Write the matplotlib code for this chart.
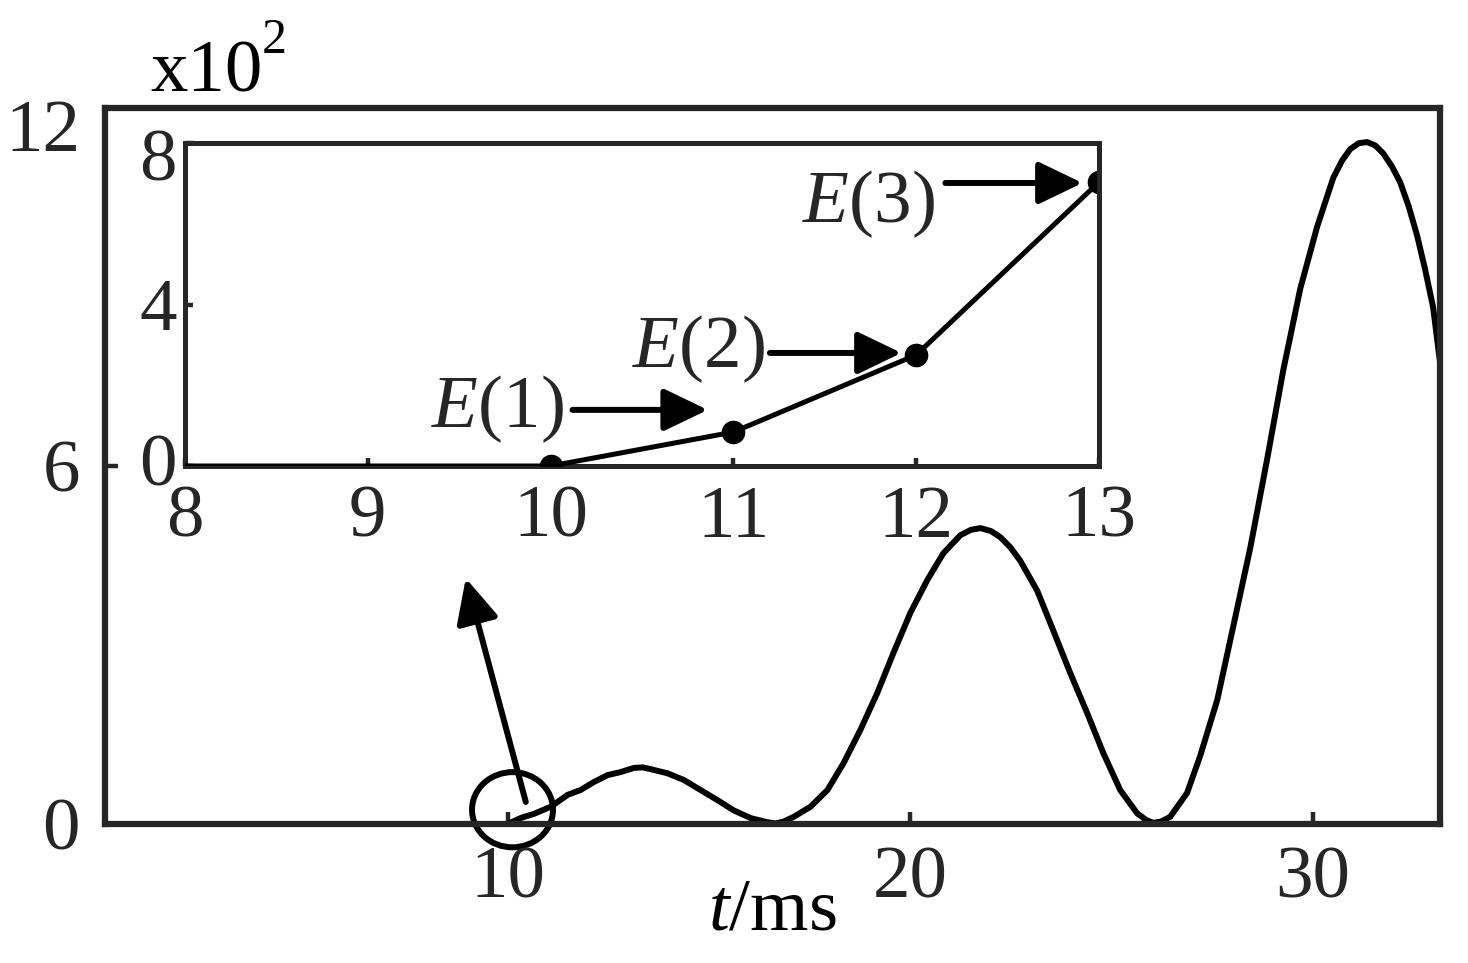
# Energy curve with zoomed inset around t = 10 ms
import matplotlib
matplotlib.use('Agg')
import matplotlib.pyplot as plt
from matplotlib.patches import Ellipse
from matplotlib.transforms import ScaledTranslation

plt.rcParams['font.family'] = 'Liberation Serif'
plt.rcParams['mathtext.fontset'] = 'custom'
plt.rcParams['mathtext.rm'] = 'Liberation Serif'
plt.rcParams['mathtext.it'] = 'Liberation Serif:italic'

# main curve, values (x10^2)
t_ms = [0, 10.0, 10.32, 10.65, 11.07, 11.49, 11.81, 12.13, 12.48, 12.80, 13.13,
        13.35, 13.55, 13.97, 14.37, 14.79, 15.21, 15.61, 16.03, 16.45, 16.65,
        16.85, 17.10, 17.52, 17.94, 18.34, 18.76, 19.18, 19.58, 20.00, 20.42,
        20.82, 21.24, 21.50, 21.74, 22.00, 22.23, 22.48, 22.73, 23.15, 23.55,
        23.97, 24.39, 24.79, 25.21, 25.63, 25.85, 26.03, 26.22, 26.45, 26.87,
        27.20, 27.62, 28.01, 28.44, 28.86, 29.26, 29.68, 30.10, 30.50, 30.72,
        30.92, 31.13, 31.34, 31.55, 31.74, 31.95, 32.16, 32.37, 32.58, 32.78,
        32.98, 33.15]
amplitude = [0, 0.0, 0.10, 0.17, 0.29, 0.49, 0.57, 0.70, 0.82, 0.87, 0.94,
             0.95, 0.92, 0.85, 0.74, 0.57, 0.40, 0.23, 0.10, 0.03, 0.01,
             0.04, 0.12, 0.29, 0.57, 1.02, 1.58, 2.20, 2.87, 3.54, 4.09,
             4.54, 4.84, 4.93, 4.96, 4.91, 4.81, 4.64, 4.41, 3.91, 3.24,
             2.53, 1.86, 1.19, 0.57, 0.18, 0.07, 0.02, 0.04, 0.12, 0.52,
             1.15, 2.08, 3.29, 4.63, 6.12, 7.61, 8.97, 10.01, 10.83, 11.12,
             11.31, 11.41, 11.43, 11.37, 11.24, 11.03, 10.76, 10.36, 9.87, 9.30,
             8.66, 7.75]

main_xticks = [10, 20, 30]
main_yticks = [0, 6, 12]

# inset: energy at the sampling instants
inset_t = [8, 10, 11, 12, 13]
inset_E = [0, 0, 0.84, 2.75, 7.03]
inset_xticks = [8, 9, 10, 11, 12, 13]
inset_yticks = [0, 4, 8]
e_labels = ['$E$(1)', '$E$(2)', '$E$(3)']

dark = '#262626'
fs = 54

fig = plt.figure(figsize=(14.68, 9.63), dpi=100)
ax = fig.add_axes([0.0715, 0.1443, 0.9094, 0.7435])

ax.plot(t_ms, amplitude, color='k', lw=4.3, solid_joinstyle='round')
ax.set_xlim(0, 33.15)
ax.set_ylim(0, 12)
ax.set_xticks(main_xticks)
ax.set_yticks(main_yticks)
ax.tick_params(direction='in', length=9, width=3.2, color=dark, labelcolor=dark,
               labelsize=fs, top=False, right=False)
ax.tick_params(axis='x', pad=16)
ax.tick_params(axis='y', pad=18)
for s in ax.spines.values():
    s.set_linewidth(4.5)
    s.set_color(dark)

# shift top label down a little like in the original
lab = ax.get_yticklabels()[-1]
lab.set_transform(lab.get_transform() + ScaledTranslation(0, -0.17, fig.dpi_scale_trans))

ax.set_xlabel('$t$/ms', fontsize=fs, color='k')
ax.xaxis.set_label_coords(0.5, -0.075)

fig.text(150 / 1468, 1 - 92 / 963, 'x10', fontsize=fs, color='k', va='baseline', ha='left')
fig.text(262 / 1468, 1 - 53 / 963, '2', fontsize=36, color='k', va='baseline', ha='left')

# circle around the zoomed region and pointer to the inset
ax.add_patch(Ellipse((10.12, 0.24), 2.01, 1.26, fill=False, lw=4.3, ec='k', clip_on=False))
ax.annotate('', xy=(8.96, 4.12), xytext=(10.45, 0.37),
            arrowprops=dict(arrowstyle='-|>,head_length=1.35,head_width=0.65',
                            mutation_scale=20, lw=4.3, color='k',
                            shrinkA=0, shrinkB=0))

# inset
ax_in = fig.add_axes([0.126, 0.5161, 0.6226, 0.3354])
ax_in.plot(inset_t, inset_E, color='k', lw=3.6)
ax_in.plot(inset_t[1:], inset_E[1:], 'o', color='k', markersize=16)
ax_in.set_xlim(8, 13)
ax_in.set_ylim(0, 8)
ax_in.set_xticks(inset_xticks)
ax_in.set_yticks(inset_yticks)
ax_in.tick_params(direction='in', length=6, width=3.2, color=dark, labelcolor=dark,
                  labelsize=fs, top=False, right=False)
ax_in.tick_params(axis='x', pad=14)
ax_in.tick_params(axis='y', pad=6)
for s in ax_in.spines.values():
    s.set_linewidth(3.6)
    s.set_color(dark)
for s in [ax_in.spines['left'], ax_in.spines['bottom']]:
    s.set_zorder(0.5)

ylabs = ax_in.get_yticklabels()
ylabs[0].set_transform(ylabs[0].get_transform() + ScaledTranslation(0, 0.06, fig.dpi_scale_trans))
ylabs[-1].set_transform(ylabs[-1].get_transform() + ScaledTranslation(0, -0.12, fig.dpi_scale_trans))

label_pos = [(9.71, 1.41), (10.81, 2.90), (11.74, 6.49)]
arrow_tail = [(10.12, 1.39), (11.20, 2.80), (12.16, 7.01)]
arrow_tip = [(10.86, 1.39), (11.92, 2.80), (12.91, 7.01)]
for txt, p, a, b in zip(e_labels, label_pos, arrow_tail, arrow_tip):
    ax_in.text(p[0], p[1], txt, fontsize=fs, color=dark, ha='center', va='center')
    ax_in.annotate('', xy=b, xytext=a,
                   arrowprops=dict(arrowstyle='-|>,head_length=1.35,head_width=0.65',
                                   mutation_scale=20, lw=4.3, color='k',
                                   shrinkA=0, shrinkB=0))

fig.savefig('out.png', dpi=100, facecolor='white')
